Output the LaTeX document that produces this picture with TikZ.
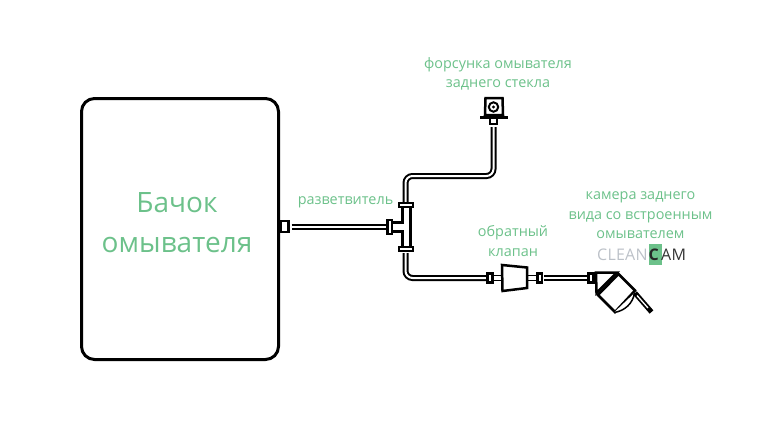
\documentclass[tikz,border=0pt]{standalone}
\usepackage{fontspec}
\setmainfont{Open Sans}
\definecolor{lbl}{HTML}{6CC18A}
\definecolor{logog}{HTML}{BCC1C8}
\tikzset{
  lab/.style={text=lbl,align=center,font=\fontsize{14.4}{19.5}\selectfont,inner sep=0pt},
  tube/.style={draw=black,line width=6pt,rounded corners=7pt,postaction={draw=white,line width=2pt}},
  part/.style={draw=black,line width=2.5pt,fill=white,line join=miter},
  logo/.style={inner sep=0pt,anchor=base west,font=\fontsize{16}{16}\selectfont},
}
\begin{document}
\begin{tikzpicture}[x=1pt,y=-1pt]
\useasboundingbox (0,0) rectangle (768,436);
\node[draw=black,line width=3pt,rounded corners=13pt,minimum width=197pt,minimum height=261pt,inner sep=0pt] (tank) at (180,229) {};
\node[text=lbl,align=center,font=\fontsize{28}{40}\selectfont,inner sep=0pt] (tanklab) at (177,222.5) {Бачок\\омывателя};
\node[part,minimum width=8pt,minimum height=11pt,inner sep=0pt] (outlet) at (284.5,226.5) {};
\coordinate (outletR) at (291.5,227);
\coordinate (teeL) at (385.5,227);
\draw[tube] (outletR) -- (teeL);
% upper tube
\coordinate (teeT) at (405.5,202);
\coordinate (nozB) at (493.5,127);
\draw[tube] (teeT) -- (405.5,176) -- (493.5,176) -- (nozB);
% lower tube
\coordinate (teeB) at (405.5,253);
\coordinate (valL) at (487,278);
\draw[tube] (teeB) -- (405.5,278) -- (valL);
% tee
\draw[part] (392,222.5) -- (402.5,222.5) -- (402.5,205) -- (410.5,205) -- (410.5,249) -- (402.5,249) -- (402.5,231.5) -- (392,231.5) -- cycle;
\draw[part] (387.5,220) rectangle (392,234);
\draw[part,line width=2pt] (399,203) rectangle (413,207);
\draw[part,line width=2pt] (399,246.5) rectangle (413,250.5);
% nozzle
\draw[part] (485.5,98) -- (502.5,98) -- (503,115) -- (485,115) -- cycle;
\draw[part,line width=2pt] (490,118) rectangle (497,123.5);
\draw[part,line width=3pt] (480,117.5) -- (507.5,117.5);
\draw[black,line width=2pt] (493.5,107) circle (4.7pt);
\fill[black] (493.5,107) circle (1.6pt);
% valve
\draw[part,line width=1.8pt] (492,275.5) rectangle (503,280.5);
\draw[part,line width=1.8pt] (527,275.5) rectangle (538,280.5);
\draw[part] (487.5,273.5) rectangle (492.5,282.5);
\draw[part] (502,265) -- (527,267.5) -- (527,288) -- (502.5,291) -- cycle;
\draw[part] (537.5,273.5) rectangle (542,282.5);
\coordinate (valR) at (544,278);
\coordinate (camL) at (587,278);
\draw[tube] (valR) -- (camL);
% camera
\draw[part] (588.5,273.5) rectangle (593.5,282.5);
\draw[part] (596,272.5) -- (617,272.5) -- (596.5,293) -- cycle;
\draw[part] (618.5,274) -- (635,290.5) -- (615,312) -- (598,295) -- cycle;
\draw[black,line width=1.5pt,fill=white] (614,312.5) .. controls (625,311) and (633,303) .. (634.5,293);
\draw[black,line width=5pt] (635,293) -- (651.5,312);
\draw[white,line width=1.3pt] (637,295.5) -- (648,308);
% labels
\node[lab] (lnoz) at (498,74) {форсунка омывателя\\заднего стекла};
\node[lab] (lsplit) at (345.5,202) {разветвитель};
\node[lab] (lval) at (513,241) {обратный\\клапан};
\node[lab] (lcam) at (640.5,215.5) {камера заднего\\вида со встроенным\\омывателем};
% logo
\fill[lbl] (649,244) rectangle (662,265);
\node[logo,text=logog] (lgo1) at (597,260) {\addfontfeature{LetterSpace=1.5}CLEAN};
\node[logo,text=black!85,font=\fontsize{16}{16}\selectfont\bfseries] (lgo2) at (648.5,260) {C};
\node[logo,text=black!80] (lgo3) at (661,260) {\addfontfeature{LetterSpace=1.5}AM};
\end{tikzpicture}
\end{document}
